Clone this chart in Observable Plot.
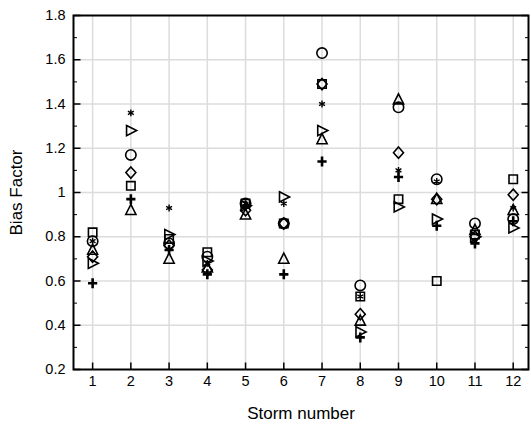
<!DOCTYPE html>
<html>
<head>
<meta charset="utf-8">
<script src="https://cdn.jsdelivr.net/npm/d3@7"></script>
<script src="https://cdn.jsdelivr.net/npm/@observablehq/plot@0.6"></script>
<style>
  html, body { margin: 0; padding: 0; background: #fff; }
  #chart svg { display: block; }
</style>
</head>
<body>
<div id="chart"></div>
<script>
// ---- data ----
const storms = [1, 2, 3, 4, 5, 6, 7, 8, 9, 10, 11, 12];
const circleVals    = [0.78, 1.17, 0.77, 0.71, 0.95, 0.86, 1.63, 0.58, 1.385, 1.06, 0.86, 0.88];
const diamondVals   = [0.71, 1.09, 0.76, 0.65, 0.92, 0.86, 1.49, 0.45, 1.18, 0.97, 0.80, 0.99];
const squareVals    = [0.82, 1.03, 0.79, 0.73, 0.95, 0.86, 1.49, 0.53, 0.97, 0.60, 0.81, 1.06];
const triangleVals  = [0.74, 0.92, 0.70, 0.66, 0.90, 0.70, 1.24, 0.42, 1.42, 0.97, 0.83, 0.92];
const rTriangleVals = [0.68, 1.28, 0.81, 0.69, 0.94, 0.98, 1.28, 0.37, 0.935, 0.88, 0.80, 0.84];
const plusVals      = [0.59, 0.97, 0.74, 0.63, 0.94, 0.63, 1.14, 0.345, 1.07, 0.85, 0.77, 0.87];
const asteriskVals  = [0.78, 1.36, 0.93, 0.68, 0.95, 0.95, 1.40, 0.53, 1.10, 1.05, 0.78, 0.93];

const yTicks = [0.2, 0.4, 0.6, 0.8, 1.0, 1.2, 1.4, 1.6, 1.8];
const yMinor = [0.3, 0.5, 0.7, 0.9, 1.1, 1.3, 1.5, 1.7];
const xTicks = storms;
const xLabel = "Storm number";
const yLabel = "Bias Factor";

// ---- symbols ----
const sym = {
  circle: { draw(c) { const r = 5.2; c.moveTo(r, 0); c.arc(0, 0, r, 0, 2 * Math.PI); c.closePath(); } },
  diamond: { draw(c) { c.moveTo(0, -5.6); c.lineTo(5, 0); c.lineTo(0, 5.6); c.lineTo(-5, 0); c.closePath(); } },
  square: { draw(c) { const h = 4.2; c.moveTo(-h, -h); c.lineTo(h, -h); c.lineTo(h, h); c.lineTo(-h, h); c.closePath(); } },
  triangle: { draw(c) { c.moveTo(0, -5.8); c.lineTo(5.1, 4.3); c.lineTo(-5.1, 4.3); c.closePath(); } },
  rtriangle: { draw(c) { c.moveTo(-4.3, -5.1); c.lineTo(5.8, 0); c.lineTo(-4.3, 5.1); c.closePath(); } },
  plus: { draw(c) { c.moveTo(-4.6, 0); c.lineTo(4.6, 0); c.moveTo(0, -5); c.lineTo(0, 5); } },
  asterisk: { draw(c) {
    const a = 3.4;
    c.moveTo(0, -a); c.lineTo(0, a);
    const dx = a * Math.cos(Math.PI / 6), dy = a * Math.sin(Math.PI / 6);
    c.moveTo(-dx, -dy); c.lineTo(dx, dy);
    c.moveTo(-dx, dy); c.lineTo(dx, -dy);
  } }
};
// tick-mark symbols (fixed pixel lengths)
const tick = (dx, dy) => ({ draw(c) { c.moveTo(0, 0); c.lineTo(dx, dy); } });

const series = [
  ["circle", circleVals, 1.6],
  ["diamond", diamondVals, 1.6],
  ["square", squareVals, 1.6],
  ["triangle", triangleVals, 1.6],
  ["rtriangle", rTriangleVals, 1.6],
  ["plus", plusVals, 2.6],
  ["asterisk", asteriskVals, 1.4]
];

const X0 = 0.5, X1 = 12.4, Y0 = 0.2, Y1 = 1.8;

const marks = [
  Plot.ruleY(yTicks.slice(1, -1), { stroke: "#dcdcdc", strokeWidth: 1.5 }),
  Plot.ruleX(xTicks, { stroke: "#dcdcdc", strokeWidth: 1.5 }),
  ...series.map(([name, vals, sw]) =>
    Plot.dot(storms, {
      x: d => d,
      y: (d, i) => vals[i],
      symbol: sym[name],
      r: 5,
      fill: "none",
      stroke: "black",
      strokeWidth: sw
    })
  ),
  // inward ticks
  Plot.dot(yTicks, { x: X0, y: d => d, symbol: tick(7, 0), stroke: "black", strokeWidth: 1.5, r: 5 }),
  Plot.dot(yMinor, { x: X0, y: d => d, symbol: tick(3.5, 0), stroke: "black", strokeWidth: 1, r: 5 }),
  Plot.dot(yTicks, { x: X1, y: d => d, symbol: tick(-7, 0), stroke: "black", strokeWidth: 1.5, r: 5 }),
  Plot.dot(yMinor, { x: X1, y: d => d, symbol: tick(-3.5, 0), stroke: "black", strokeWidth: 1, r: 5 }),
  Plot.dot(xTicks, { x: d => d, y: Y0, symbol: tick(0, -7), stroke: "black", strokeWidth: 1.5, r: 5 }),
  Plot.frame({ stroke: "black", strokeWidth: 2 }),
  Plot.axisY(yTicks, {
    tickSize: 0, tickPadding: 8,
    tickFormat: d => String(+d.toFixed(1)),
    fontSize: 14.5,
    label: null
  }),
  Plot.axisX(xTicks, {
    tickSize: 0, tickPadding: 6,
    tickFormat: d => String(d),
    fontSize: 14.5,
    label: null
  }),
  Plot.axisY({
    ticks: [], tickSize: 0, fontSize: 17,
    label: yLabel, labelAnchor: "center", labelArrow: "none", labelOffset: 64
  }),
  Plot.axisX({
    ticks: [], tickSize: 0, fontSize: 17,
    label: xLabel, labelAnchor: "center", labelArrow: "none", labelOffset: 49
  })
];

const chart = Plot.plot({
  width: 531,
  height: 424,
  marginLeft: 73,
  marginRight: 3,
  marginTop: 15,
  marginBottom: 55,
  x: { domain: [X0, X1] },
  y: { domain: [Y0, Y1] },
  style: { fontFamily: "'Liberation Sans', Arial, sans-serif", fontSize: "14px", color: "black", background: "white" },
  marks
});
document.getElementById("chart").appendChild(chart);
</script>
</body>
</html>
